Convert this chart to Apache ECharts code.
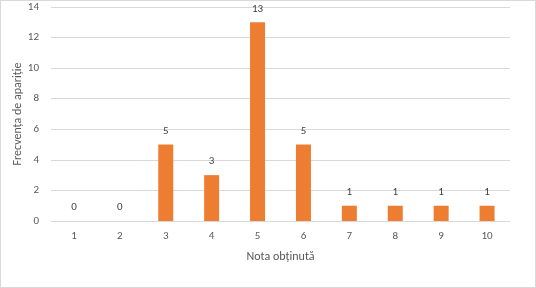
<!DOCTYPE html>
<html><head><meta charset="utf-8">
<script src="https://cdn.jsdelivr.net/npm/echarts@6/dist/echarts.min.js"></script>
<style>html,body{margin:0;padding:0;background:#fff}#c{width:536px;height:288px;box-sizing:border-box;border:1px solid #d9d9d9}</style>
</head><body><div id="c"></div>
<script>
const categories = ['1','2','3','4','5','6','7','8','9','10'];
const values = [0,0,5,3,13,5,1,1,1,1];
const chart = echarts.init(document.getElementById('c'));
const font = 'Calibri, Carlito, Lato, sans-serif';
chart.setOption({
  animation:false,
  grid:{left:50,right:25,top:6,bottom:66,outerBoundsMode:'none',containLabel:false},
  xAxis:{type:'category',data:categories,
    name:'Nota obținută',nameLocation:'middle',nameGap:30,
    nameTextStyle:{color:'#595959',fontSize:12,fontFamily:font},
    axisLine:{lineStyle:{color:'#d9d9d9'}},axisTick:{show:false},
    axisLabel:{color:'#595959',fontSize:11,fontFamily:font,margin:10}},
  yAxis:{type:'value',min:0,max:14,interval:2,
    name:'Frecvența de apariție',nameLocation:'middle',nameGap:27,nameMoveOverlap:false,
    nameTextStyle:{color:'#595959',fontSize:12,fontFamily:font},
    axisLine:{show:false},axisTick:{show:false},
    splitLine:{lineStyle:{color:'#d9d9d9'}},
    axisLabel:{color:'#595959',fontSize:11,fontFamily:font,margin:12}},
  series:[{type:'bar',data:values,barWidth:15,
    itemStyle:{color:'#ED7D31'},
    label:{show:true,position:'top',distance:8,color:'#404040',fontSize:11,fontFamily:font}}]
});
</script></body></html>
